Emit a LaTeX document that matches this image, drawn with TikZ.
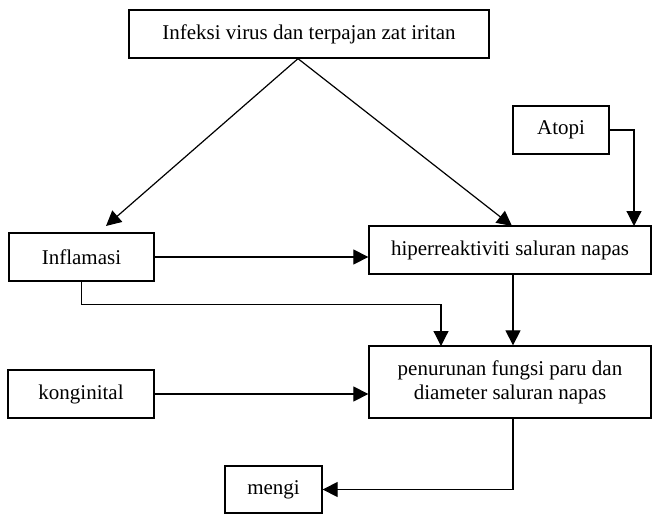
\documentclass[tikz,border=0pt]{standalone}
\usepackage{fontspec}
\setmainfont{Liberation Serif}
\usetikzlibrary{arrows.meta}
\begin{document}
\begin{tikzpicture}[x=1pt,y=-1pt,
  box/.style={draw,line width=1.3pt,inner sep=0pt,align=center,
    font=\fontsize{21}{24}\selectfont},
  conn/.style={line width=1.2pt,-{Triangle[length=15pt,width=15pt]}}]
\useasboundingbox (0,0) rectangle (653,514);
\node[box,minimum width=360pt,minimum height=48pt] (top) at (309,34) {Infeksi virus dan terpajan zat iritan};
\node[box,minimum width=96pt,minimum height=48pt] (atopi) at (561,130) {Atopi};
\node[box,minimum width=145pt,minimum height=48pt] (infl) at (81.5,257) {Inflamasi};
\node[box,minimum width=282pt,minimum height=48pt] (hiper) at (510,250) {hiperreaktiviti saluran napas};
\node[box,minimum width=146pt,minimum height=48pt] (kong) at (81,394) {konginital};
\node[box,minimum width=282pt,minimum height=72pt] (pen) at (510,382) {penurunan fungsi paru dan\\diameter saluran napas};
\node[box,minimum width=97pt,minimum height=47pt] (mengi) at (273.5,489.5) {mengi};
\coordinate (apex) at ([xshift=-11pt]top.south);
\coordinate (tipL) at (106,226);
\coordinate (tipR) at (512,226);
\coordinate (atopiIn) at (634,226);
\coordinate (penInL) at (441,346);
\draw[conn] (apex) -- (tipL);
\draw[conn] (apex) -- (tipR);
\draw[conn] (atopi.east) -| (atopiIn);
\draw[conn] (infl.east) -- (infl.east -| hiper.west);
\draw[conn] (infl.south) -- ++(0,23) -| (penInL);
\draw[conn] ([xshift=3pt]hiper.south) -- ([xshift=3pt]pen.north);
\draw[conn] (kong.east) -- (kong.east -| pen.west);
\draw[conn] ([xshift=3pt]pen.south) |- (mengi.east);
\end{tikzpicture}
\end{document}
